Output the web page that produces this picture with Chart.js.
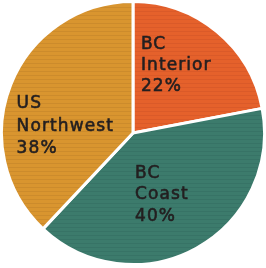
<!DOCTYPE html>
<html>
<head>
<meta charset="utf-8">
<script src="https://cdn.jsdelivr.net/npm/chart.js@4"></script>
<style>
  html, body { margin: 0; padding: 0; background: #fff; }
  #wrap { width: 266px; height: 268px; }
</style>
</head>
<body>
<div id="wrap"><canvas id="pie" width="266" height="268"></canvas></div>
<script>
// dados da pizza
const regioes = ['BC Interior', 'BC Coast', 'US Northwest'];
const percentuais = [22, 40, 38];
const linhasRotulo = [['BC', 'Interior', '22%'], ['BC', 'Coast', '40%'], ['US', 'Northwest', '38%']];
const cores = ['#e5612b', '#3c7b6c', '#d9952f'];
const coresLinha = ['#da5a29', '#377366', '#cc8b2c'];

// textura listrada (imita o papel / madeira)
function textura(base, linha) {
    const c = document.createElement('canvas');
    c.width = 6; c.height = 4;
    const g = c.getContext('2d');
    g.fillStyle = base;
    g.fillRect(0, 0, 6, 4);
    g.fillStyle = linha;
    g.fillRect(0, 3, 6, 1);
    return g.createPattern(c, 'repeat');
}

// posicao do texto relativa ao centro, em fracao do raio
const posRotulo = [[0.06, -0.675], [0.015, 0.305], [-0.885, -0.225]];
const passoLinha = [21, 21.7, 22.7];

const rotulosPlugin = {
    id: 'rotulos',
    afterDatasetsDraw(chart) {
        const ctx = chart.ctx;
        const arcs = chart.getDatasetMeta(0).data;
        ctx.save();
        ctx.fillStyle = '#231f20';
        ctx.strokeStyle = '#231f20';
        ctx.lineWidth = 0.6;
        ctx.font = '17px "DejaVu Sans"';
        ctx.letterSpacing = '1.1px';
        ctx.textBaseline = 'middle';
        ctx.textAlign = 'left';
        arcs.forEach((arc, i) => {
            const r = arc.outerRadius;
            const x = arc.x + posRotulo[i][0] * r;
            const y = arc.y + posRotulo[i][1] * r;
            linhasRotulo[i].forEach((t, k) => {
                ctx.fillText(t, x, y + k * passoLinha[i]);
                ctx.strokeText(t, x, y + k * passoLinha[i]);
            });
        });
        ctx.restore();
    }
};

new Chart(document.getElementById('pie'), {
    type: 'pie',
    data: {
        labels: regioes,
        datasets: [{
            data: percentuais,
            backgroundColor: cores.map((c, i) => textura(c, coresLinha[i])),
            borderColor: '#ffffff',
            borderWidth: 3
        }]
    },
    options: {
        responsive: false,
        animation: false,
        layout: { padding: { bottom: 2 } },
        plugins: { legend: { display: false }, tooltip: { enabled: false } }
    },
    plugins: [rotulosPlugin]
});
</script>
</body>
</html>
